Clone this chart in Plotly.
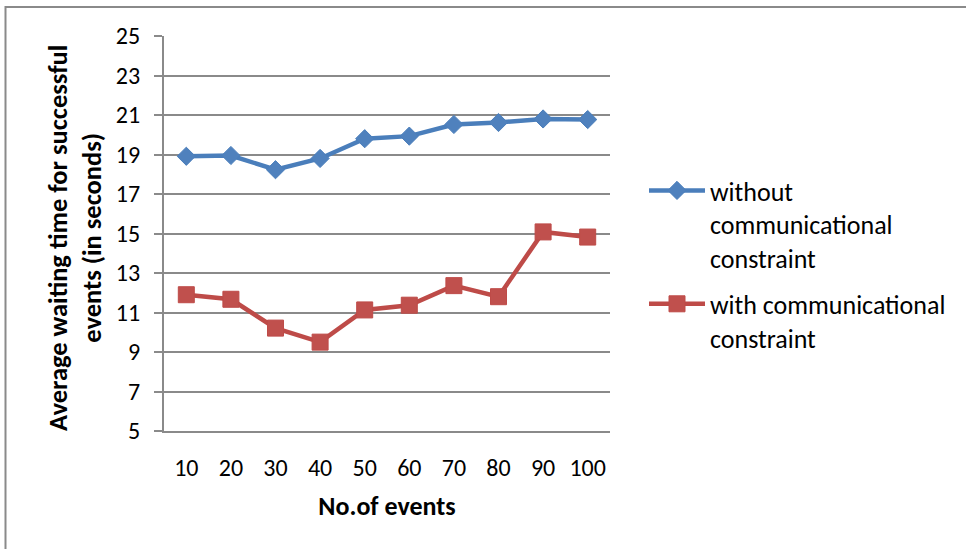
import plotly.graph_objects as go

# Number of events (category labels on the x axis)
events = ["10", "20", "30", "40", "50", "60", "70", "80", "90", "100"]

# Average waiting time (seconds) for successful events
without_constraint = [18.91, 18.95, 18.23, 18.8, 19.8, 19.93, 20.52, 20.62, 20.8, 20.77]
with_constraint = [11.9, 11.67, 10.21, 9.5, 11.13, 11.37, 12.36, 11.8, 15.08, 14.82]

series_names = [
    "without<br>communicational<br>constraint",
    "with communicational<br>constraint",
]

FONT = "Calibri, Carlito, Lato, sans-serif"
GRID = "#8a8a8a"
BLUE_LINE, BLUE_MARK = "#4a7ebb", "#4f81bd"
RED_LINE, RED_MARK = "#be4b48", "#c0504d"

fig = go.Figure()
fig.add_trace(go.Scatter(
    x=events, y=without_constraint, name=series_names[0],
    mode="lines+markers", legendgroup="a",
    line=dict(color=BLUE_LINE, width=4.5),
    marker=dict(symbol="diamond", size=14, color=BLUE_MARK,
                line=dict(color=BLUE_LINE, width=1)),
))
fig.add_trace(go.Scatter(
    x=events, y=with_constraint, name=series_names[1],
    mode="lines+markers", legendgroup="b",
    line=dict(color=RED_LINE, width=4.5),
    marker=dict(symbol="square", size=16, color=RED_MARK,
                line=dict(color=RED_LINE, width=1)),
))

L, R, T, B = 164, 356, 36, 118
W, H = 966, 549
pw, ph = W - L - R, H - T - B

def px_x(px):
    return (px - L) / pw

def px_y(py):
    return (H - B - py) / ph

fig.update_layout(
    width=W, height=H,
    margin=dict(l=L, r=R, t=T, b=B, pad=0),
    paper_bgcolor="white", plot_bgcolor="white",
    font=dict(family=FONT, size=24, color="#000000"),
    showlegend=True,
    legend=dict(
        x=px_x(644), y=px_y(167), xanchor="left", yanchor="top",
        valign="top", itemwidth=56, traceorder="grouped", tracegroupgap=9,
        font=dict(family=FONT, size=26, color="#000000"),
        bgcolor="rgba(0,0,0,0)",
    ),
    xaxis=dict(
        type="category", range=[-0.5, 9.5],
        showline=True, linecolor=GRID, linewidth=2,
        showgrid=False, ticks="", ticklabelstandoff=14,
        tickfont=dict(family=FONT, size=24),
        title=dict(text="<b>No.of events</b>", standoff=16,
                   font=dict(family=FONT, size=26)),
    ),
    yaxis=dict(
        range=[5, 25], tick0=5, dtick=2,
        showline=True, linecolor=GRID, linewidth=2,
        showgrid=True, gridcolor=GRID, gridwidth=2,
        ticks="outside", ticklen=8, tickwidth=2, tickcolor=GRID,
        ticklabelstandoff=9, zeroline=False,
        tickfont=dict(family=FONT, size=24),
    ),
    annotations=[dict(
        text="<b>Average waiting time for successful<br>events (in seconds)</b>",
        textangle=-90, xref="paper", yref="paper",
        x=px_x(75), y=px_y(238), xanchor="center", yanchor="middle",
        showarrow=False, font=dict(family=FONT, size=26.5, color="#000000"),
    )],
    shapes=[dict(
        type="rect", xref="paper", yref="paper",
        x0=px_x(5.5), x1=px_x(975), y0=px_y(560), y1=px_y(7),
        line=dict(color=GRID, width=2), fillcolor="rgba(0,0,0,0)",
        layer="below",
    )],
)

fig.write_html("out.html")
